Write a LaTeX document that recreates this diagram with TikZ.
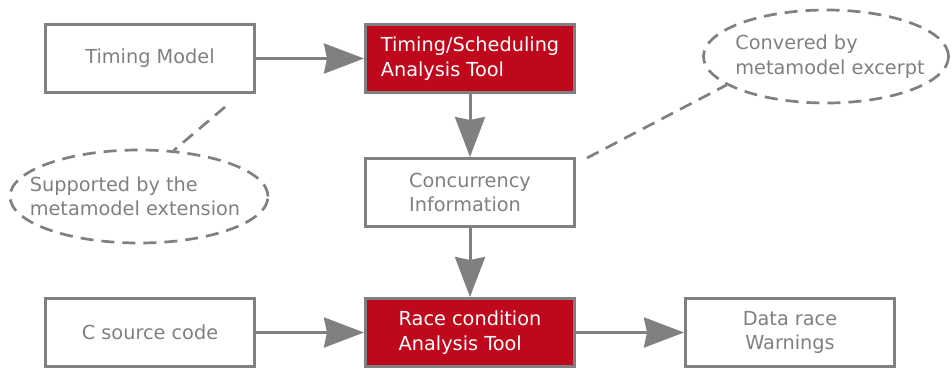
\documentclass[tikz,border=0pt]{standalone}
\usepackage{fontspec}
\setmainfont{DejaVu Sans}
\usetikzlibrary{shapes.geometric,arrows.meta}
\definecolor{linegray}{RGB}{128,128,128}
\definecolor{toolred}{RGB}{192,8,28}

\begin{document}
\begin{tikzpicture}[x=1pt,y=-1pt,
  every node/.style={font=\fontsize{19.3}{24.5}\selectfont},
  box/.style={draw=linegray, line width=3pt, minimum width=209pt, minimum height=68pt,
              inner sep=0pt, text=linegray, fill=white, align=left},
  tool/.style={box, fill=toolred, text=white},
  note/.style={ellipse, draw=linegray, line width=2.7pt, dash pattern=on 13pt off 8pt,
               inner sep=0pt},
  notetext/.style={text=linegray, align=left, inner sep=0pt},
  flow/.style={draw=linegray, line width=3pt, -{Stealth[length=40pt,width=30pt,inset=3pt]}},
  link/.style={draw=linegray, line width=2.7pt, dash pattern=on 13pt off 8pt}
]
\useasboundingbox (0,0) rectangle (952,369);

% process boxes
\node[box]  (model)  at (150,58.5)  {Timing Model};
\node[tool] (sched)  at (470,58.5)  {Timing/Scheduling\\Analysis Tool};
\node[box]  (conc)   at (470,192.5) {Concurrency\\Information};
\node[box]  (csrc)   at (150,332.5) {C source code};
\node[tool] (race)   at (470,332.5) {Race condition\\Analysis Tool};
\node[box, align=center] (warn) at (790,332.5) {Data race\\Warnings};

% annotations: dashed outline, with the text laid over it
\node[note, minimum width=258pt, minimum height=93pt] (ext) at (139,196.5) {};
\node[notetext, xshift=-4pt] (exttext) at (ext.center) {Supported by the\\metamodel extension};
\node[note, minimum width=245pt, minimum height=93pt] (exc) at (826,56.5) {};
\node[notetext, xshift=4pt] (exctext) at (exc.center) {Convered by\\metamodel excerpt};

% data flow
\draw[flow] (model) -- (sched);
\draw[flow] (sched) -- (conc);
\draw[flow] (conc) -- (race);
\draw[flow] (csrc) -- (race);
\draw[flow] (race) -- (warn);

% annotation links
\coordinate (m1) at (225,107);
\coordinate (c1) at (587,158);
\draw[link] (m1) -- (ext.53);
\draw[link] (c1) -- (exc.196);
\end{tikzpicture}
\end{document}
